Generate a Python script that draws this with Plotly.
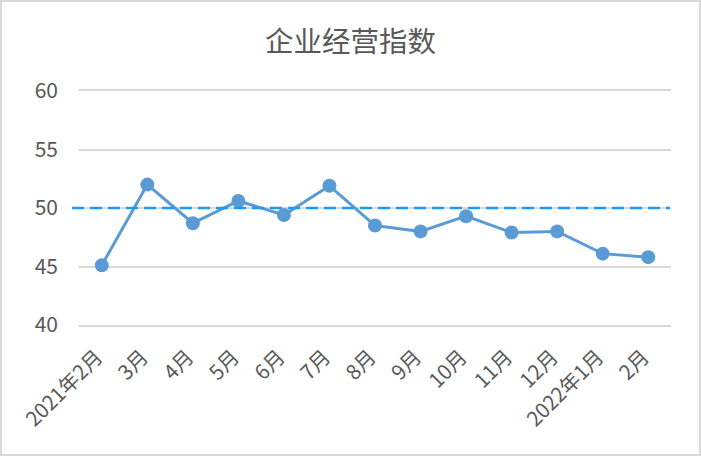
import plotly.graph_objects as go

categories = ["2021年2月", "3月", "4月", "5月", "6月", "7月", "8月", "9月", "10月", "11月", "12月", "2022年1月", "2月"]
values = [45.1, 52.0, 48.7, 50.6, 49.4, 51.9, 48.5, 48.0, 49.3, 47.9, 48.0, 46.1, 45.8]
threshold = 50
title_text = "企业经营指数"

W, H = 701, 456
ml, mr, mt, mb = 79, 30, 91, 131
pw, ph = W - ml - mr, H - mt - mb

font_family = "Noto Sans CJK SC, Microsoft YaHei, sans-serif"
text_color = "#595959"
grid_color = "#D9D9D9"

fig = go.Figure()
fig.add_trace(go.Scatter(
    x=categories, y=values, mode="lines+markers",
    line=dict(color="#5B9BD5", width=3),
    marker=dict(color="#5B9BD5", size=14),
    showlegend=False, cliponaxis=False,
))

# threshold dashed line
fig.add_shape(type="line", xref="paper", yref="y",
              x0=-7 / pw, x1=1 - 1 / pw, y0=threshold, y1=threshold,
              line=dict(color="#1C9CF6", width=2.5, dash="12px,6px"), layer="above")

# outer border
fig.add_shape(type="rect", xref="paper", yref="paper",
              x0=(1 - ml) / pw, x1=(W - 1 - ml) / pw,
              y0=-(mb - 1) / ph, y1=1 + (mt - 1) / ph,
              line=dict(color=grid_color, width=2), fillcolor="rgba(0,0,0,0)")

fig.update_layout(
    width=W, height=H,
    margin=dict(l=ml, r=mr, t=mt, b=mb, pad=0),
    paper_bgcolor="white", plot_bgcolor="white",
    font=dict(family=font_family, color=text_color, size=16),
    title=dict(text=title_text, x=0.5, xanchor="center", y=1 - 42 / H, yanchor="middle",
               font=dict(size=28.5, color=text_color, family=font_family)),
    xaxis=dict(type="category", tickangle=-45, showgrid=False,
               showline=True, mirror=True, linecolor=grid_color, linewidth=2,
               ticks="", tickmode="array", tickvals=categories, ticktext=categories,
               tickfont=dict(size=20.5, color=text_color),
               ticklabelstandoff=10, ticklabelshift=-5,
               range=[-0.5, len(categories) - 0.5]),
    yaxis=dict(range=[40, 60], dtick=5, showgrid=True, gridcolor=grid_color, gridwidth=2,
               zeroline=False, showline=False, ticks="", ticklabelstandoff=20,
               tickfont=dict(size=21, color=text_color)),
)

fig.write_html("out.html", config={"displayModeBar": False},
               post_script="document.body.style.margin='0';document.body.style.overflow='hidden';")
